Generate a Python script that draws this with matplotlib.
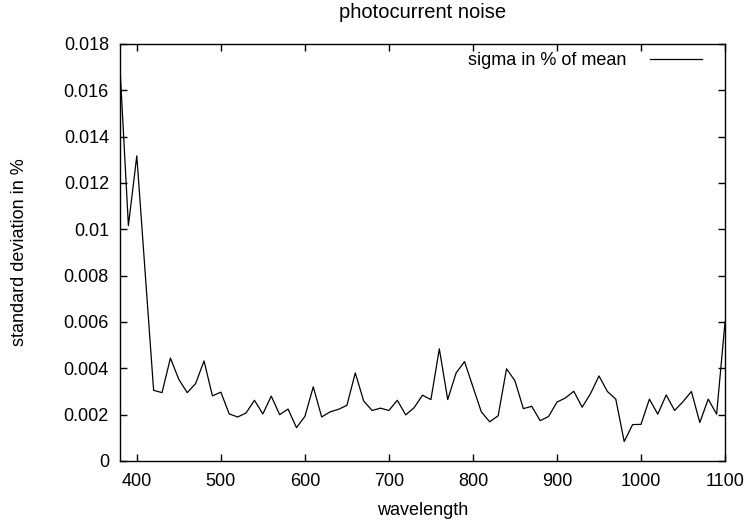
import numpy as np
import matplotlib
matplotlib.use("Agg")
import matplotlib.pyplot as plt
from matplotlib.ticker import FuncFormatter

plt.rcParams['font.family'] = ['Liberation Sans', 'DejaVu Sans']
plt.rcParams['font.size'] = 13

wavelength = np.arange(380, 1101, 10)
sigma = [0.01696, 0.01016, 0.01317, 0.00810, 0.00305, 0.00295, 0.00444, 0.00352,
         0.00295, 0.00334, 0.00432, 0.00281, 0.00297, 0.00203, 0.00190, 0.00207,
         0.00262, 0.00203, 0.00280, 0.00200, 0.00224, 0.00144, 0.00192, 0.00320,
         0.00190, 0.00212, 0.00223, 0.00240, 0.00380, 0.00259, 0.00218, 0.00228,
         0.00218, 0.00262, 0.00199, 0.00230, 0.00284, 0.00265, 0.00484, 0.00265,
         0.00380, 0.00429, 0.00320, 0.00212, 0.00169, 0.00195, 0.00398, 0.00346,
         0.00226, 0.00236, 0.00174, 0.00192, 0.00254, 0.00272, 0.00301, 0.00232,
         0.00291, 0.00367, 0.00300, 0.00267, 0.00084, 0.00157, 0.00158, 0.00267,
         0.00202, 0.00285, 0.00218, 0.00256, 0.00300, 0.00166, 0.00267, 0.00202,
         0.00600]

fig = plt.figure(figsize=(7.5, 5.2), dpi=100)
ax = fig.add_axes([0.16, 0.1135, 0.8067, 0.802])

ax.plot(wavelength, sigma, color='black', lw=0.9, label='sigma in % of mean')

ax.set_xlim(380, 1100)
ax.set_ylim(0, 0.018)
ax.set_xticks(np.arange(400, 1101, 100))
ax.set_yticks(np.arange(0, 0.0181, 0.002))
ax.yaxis.set_major_formatter(FuncFormatter(lambda v, p: '%g' % round(v, 6)))
ax.tick_params(direction='in', length=5, width=1, top=True, right=True, labelsize=13)
ax.tick_params(axis='x', pad=9)
ax.tick_params(axis='y', pad=8)
for s in ax.spines.values():
    s.set_linewidth(1)

ax.set_title('photocurrent noise', fontsize=14.5, pad=19)
ax.set_xlabel('wavelength', fontsize=13, labelpad=8)
ax.set_ylabel('standard deviation in %', fontsize=13)
ax.yaxis.set_label_coords(-0.152, 0.5)

ax.legend(loc='upper right', frameon=False, markerfirst=False, fontsize=13,
          handlelength=2.9, handletextpad=1.28, borderpad=0, borderaxespad=0,
          bbox_to_anchor=(0.962, 0.981))

fig.savefig('out.png', dpi=100)
